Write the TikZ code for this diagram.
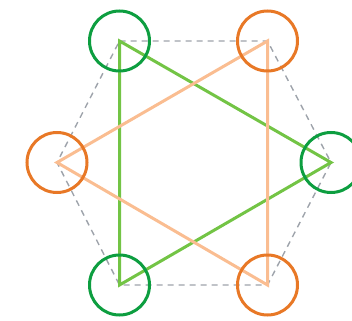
\documentclass[tikz,border=0pt]{standalone}
\usepackage{tikz}
\usetikzlibrary{arrows.meta}
\definecolor{ringG}{rgb}{0.05,0.62,0.25}
\definecolor{lineG}{rgb}{0.45,0.77,0.27}
\definecolor{ringO}{rgb}{0.91,0.47,0.15}
\definecolor{lineO}{rgb}{0.98,0.74,0.57}
\definecolor{hexC}{rgb}{0.62,0.64,0.67}

\begin{document}
\begin{tikzpicture}[x=1pt, y=-1pt, line cap=round]
\useasboundingbox (0,0) rectangle (352,320);
% ---------- 六边形顶点 ----------
\coordinate (tl) at (119.5,41);
\coordinate (tr) at (267.5,41);
\coordinate (r)  at (331,162.5);
\coordinate (br) at (267.5,285);
\coordinate (bl) at (119.5,285);
\coordinate (l)  at (57,162.5);
% 虚线六边形
\draw[hexC, line width=1.4pt, dash pattern=on 6pt off 5pt, line cap=butt]
  (tl) -- (tr) -- (r) -- (br) -- (bl) -- (l) -- cycle;
% 三角形
\draw[lineG, line width=3pt, line join=miter] (tl) -- (r) -- (bl) -- cycle;
\draw[lineO, line width=3pt, line join=miter] (tr) -- (l) -- (br) -- cycle;
% 顶点圆
\foreach \p in {tl,r,bl}
  \draw[ringG, line width=3pt] (\p) circle (30);
\foreach \p in {tr,l,br}
  \draw[ringO, line width=3pt] (\p) circle (30);
\end{tikzpicture}
\end{document}
